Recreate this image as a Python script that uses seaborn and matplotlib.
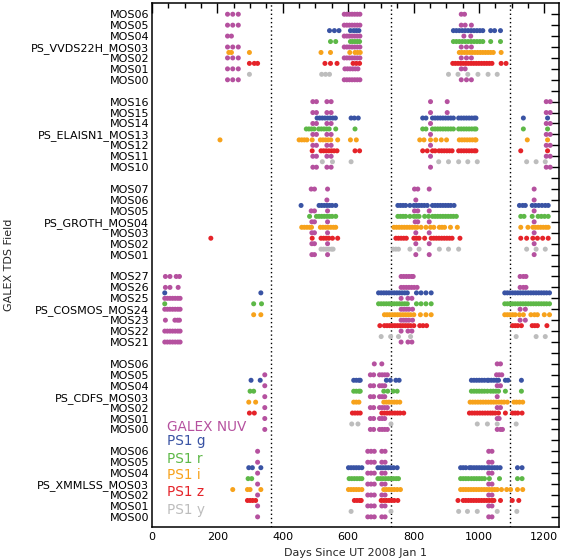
import numpy as np
import pandas as pd
import matplotlib
matplotlib.use('Agg')
import matplotlib.pyplot as plt
import seaborn as sb

# bandas y colores
bandas = ['NUV', 'g', 'r', 'i', 'z', 'y']
colores = {'NUV': '#B5519F', 'g': '#3953A4', 'r': '#5DB847',
           'i': '#F7A21B', 'z': '#E52329', 'y': '#BDBDBD'}
leyenda = ['GALEX NUV', 'PS1 g', 'PS1 r', 'PS1 i', 'PS1 z', 'PS1 y']

# campos, de abajo hacia arriba
campos = ['PS_XMMLSS', 'PS_CDFS', 'PS_COSMOS', 'PS_GROTH', 'PS_ELAISN1', 'PS_VVDS22H']
mos_inicio = [0, 0, 21, 1, 10, 0]
anios = [365, 731, 1096]

# GALEX NUV: una lista por MOS, de arriba (MOS mayor) hacia abajo
nuv_vvds = [
    [231, 247, 264, 588, 596, 604, 612, 620, 628, 636, 946, 956],
    [231, 247, 264, 588, 596, 604, 612, 620, 628, 636, 946, 958, 977],
    [231, 243, 588, 596, 604, 612, 620, 628, 636, 954, 975],
    [231, 247, 264, 588, 596, 604, 612, 620, 628, 636, 946, 962, 977],
    [231, 247, 264, 588, 596, 604, 612, 620, 628, 636, 946, 962, 977],
    [231, 247, 264, 590, 598, 606, 614, 622, 630, 946, 958],
    [231, 247, 264, 588, 596, 604, 612, 620, 628, 636, 946, 962, 977],
]
nuv_elais = [
    [492, 503, 535, 548, 852, 903, 1206, 1218],
    [492, 503, 535, 548, 852, 903, 1206, 1218],
    [492, 503, 535, 548, 852, 1206, 1218],
    [492, 503, 535, 548, 852, 1206, 1218],
    [492, 503, 535, 548, 852, 1206, 1218],
    [492, 503, 535, 548, 852, 1206, 1218],
    [492, 503, 535, 548, 852, 1206, 1218],
]
nuv_groth = [
    [487, 497, 537, 803, 813, 848, 1169],
    [535, 807, 1169],
    [487, 497, 537, 803, 813, 848, 1169],
    [489, 497, 537, 805, 813, 848, 1169],
    [489, 497, 537, 807, 848, 1169],
    [489, 497, 537, 807, 848, 1169],
    [489, 497, 537, 807, 848, 1169],
]
nuv_cosmos = [
    [41, 55, 74, 84, 762, 770, 778, 786, 794, 799, 1126, 1136, 1144],
    [41, 55, 80, 762, 770, 778, 786, 794, 802, 811, 1126, 1136, 1144],
    [39, 47, 55, 63, 71, 79, 86, 762, 783, 795],
    [39, 47, 55, 63, 71, 79, 86, 762, 770, 778, 786, 797, 1126, 1142],
    [41, 70, 78, 84, 762, 770, 778, 786, 797, 1126, 1142],
    [39, 47, 55, 63, 71, 79, 86, 762, 783, 795],
    [39, 47, 55, 63, 71, 79, 86, 762, 783, 795],
]
nuv_cdfs = [
    [680, 703, 1056, 1066],
    [345, 668, 678, 696, 704, 712, 720, 1054, 1062, 1070],
    [345, 668, 678, 696, 704, 712, 1056, 1066],
    [345, 668, 678, 696, 704, 712, 1056],
    [345, 668, 678, 696, 704, 712, 720, 1056, 1066],
    [345, 668, 678, 696, 704, 712, 1056, 1062],
    [345, 668, 678, 696, 704, 712, 720, 1056, 1066, 1072],
]
nuv_xmm = [
    [323, 660, 670, 680, 703, 713, 1030, 1040],
    [323, 660, 670, 680, 703, 713, 1030, 1040],
    [323, 660, 670, 680, 703, 713, 1030, 1040],
    [323, 660, 670, 680, 703, 713, 1030, 1040],
    [323, 660, 670, 680, 703, 713, 1030, 1040],
    [323, 660, 670, 680, 703, 713, 1030, 1040],
    [323, 660, 670, 680, 703, 713, 1030, 1040],
]

# PS1: listas g, r, i, z, y por campo
ps1_vvds = [
    [543, 558, 572, 607, 617, 625, 633, 922, 931, 940, 949, 958, 967, 976, 985, 994, 1003, 1012, 1036, 1048, 1066],
    [546, 562, 607, 614, 621, 628, 635, 922, 931, 940, 949, 958, 967, 976, 985, 994, 1003, 1012, 1036, 1066],
    [235, 243, 298, 517, 546, 605, 621, 629, 637, 940, 948, 956, 964, 972, 980, 988, 996, 1004, 1012, 1020, 1028, 1036, 1044, 1068],
    [298, 313, 323, 529, 546, 566, 615, 625, 635, 920, 928, 936, 944, 952, 960, 968, 976, 984, 992, 1000, 1008, 1016, 1024, 1032, 1040, 1068, 1083],
    [298, 519, 531, 543, 907, 936, 966, 997, 1028, 1056],
]
ps1_elais = [
    [505, 513, 521, 529, 537, 545, 553, 561, 609, 619, 631, 828, 838, 858, 866, 874, 882, 890, 898, 906, 914, 922, 938, 946, 954, 962, 970, 978, 986, 991, 1136, 1210],
    [472, 480, 488, 496, 510, 518, 526, 534, 542, 562, 621, 828, 838, 858, 866, 874, 882, 890, 898, 906, 914, 922, 938, 946, 954, 962, 970, 978, 986, 991, 1136, 1210],
    [208, 450, 458, 466, 474, 490, 515, 523, 531, 539, 547, 568, 607, 625, 819, 832, 852, 868, 885, 901, 940, 948, 956, 964, 972, 980, 988, 991, 1148, 1210],
    [490, 517, 525, 533, 541, 549, 557, 566, 621, 635, 828, 842, 858, 866, 878, 886, 894, 902, 910, 918, 938, 946, 954, 962, 970, 978, 986, 991, 1128, 1210],
    [521, 552, 609, 877, 907, 938, 966, 995, 1146, 1175, 1203],
]
ps1_groth = [
    [456, 511, 519, 527, 535, 543, 551, 562, 752, 760, 768, 776, 789, 801, 809, 817, 825, 833, 842, 858, 866, 874, 882, 890, 898, 906, 914, 924, 1124, 1134, 1142, 1163, 1173, 1183, 1193, 1203, 1212],
    [482, 503, 511, 519, 527, 535, 543, 551, 562, 752, 760, 768, 776, 789, 801, 809, 817, 834, 846, 858, 866, 874, 882, 890, 898, 906, 914, 922, 931, 1128, 1138, 1163, 1181, 1191, 1201, 1212],
    [458, 466, 474, 482, 488, 515, 523, 531, 539, 547, 555, 562, 740, 748, 756, 764, 772, 780, 788, 796, 804, 811, 823, 838, 852, 862, 879, 887, 895, 913, 934, 1128, 1150, 1165, 1173, 1181, 1189, 1197, 1205, 1212],
    [180, 490, 517, 525, 533, 541, 552, 568, 746, 754, 762, 770, 778, 801, 809, 817, 834, 854, 862, 870, 878, 886, 894, 902, 910, 918, 942, 1128, 1146, 1165, 1179, 1195, 1212],
    [517, 525, 533, 541, 549, 554, 738, 746, 754, 789, 817, 879, 907, 938, 1146, 1175, 1203],
]
ps1_cosmos = [
    [39, 333, 693, 701, 709, 717, 725, 733, 741, 749, 757, 765, 773, 781, 809, 823, 838, 854, 1079, 1087, 1095, 1103, 1111, 1119, 1127, 1135, 1143, 1151, 1159, 1167, 1175, 1183, 1191, 1199, 1207, 1216],
    [39, 311, 335, 693, 701, 709, 717, 725, 733, 741, 749, 757, 765, 773, 781, 809, 823, 838, 854, 1079, 1087, 1095, 1103, 1111, 1119, 1127, 1135, 1143, 1151, 1159, 1167, 1175, 1183, 1191, 1199, 1207, 1216],
    [311, 333, 711, 719, 727, 735, 743, 751, 759, 767, 775, 783, 791, 801, 821, 838, 854, 1079, 1087, 1095, 1103, 1111, 1124, 1136, 1159, 1170, 1179, 1200, 1216],
    [697, 711, 719, 727, 735, 743, 751, 759, 767, 775, 783, 791, 801, 819, 829, 840, 1103, 1111, 1119, 1130, 1163, 1171, 1179, 1208],
    [701, 730, 754, 791, 1114, 1175, 1203],
]
ps1_cdfs = [
    [303, 331, 617, 625, 633, 637, 717, 729, 746, 756, 977, 985, 993, 1001, 1009, 1017, 1026, 1030, 1038, 1046, 1054, 1060, 1081, 1089, 1130],
    [300, 311, 617, 625, 633, 637, 709, 721, 738, 750, 977, 985, 993, 1001, 1009, 1017, 1026, 1036, 1044, 1052, 1060, 1081, 1130],
    [296, 317, 617, 625, 633, 709, 717, 725, 733, 741, 749, 758, 973, 981, 989, 997, 1005, 1013, 1021, 1029, 1037, 1045, 1053, 1061, 1069, 1077, 1087, 1107, 1115, 1124, 1134],
    [298, 313, 613, 621, 629, 637, 703, 711, 719, 727, 735, 743, 751, 759, 770, 971, 979, 987, 995, 1003, 1011, 1019, 1027, 1035, 1042, 1050, 1060, 1081, 1103, 1111, 1119, 1132],
    [611, 630, 731, 995, 1026, 1056, 1114],
]
ps1_xmm = [
    [296, 307, 333, 601, 609, 617, 625, 633, 642, 691, 699, 707, 715, 723, 731, 739, 750, 944, 952, 960, 971, 977, 985, 993, 1001, 1009, 1017, 1026, 1032, 1040, 1048, 1056, 1065, 1118, 1132],
    [294, 305, 603, 611, 619, 627, 635, 642, 691, 699, 707, 715, 723, 731, 739, 747, 754, 944, 952, 960, 968, 977, 985, 993, 1001, 1009, 1017, 1032, 1063, 1118, 1132],
    [247, 292, 300, 333, 601, 609, 617, 625, 633, 642, 709, 717, 725, 733, 741, 750, 760, 944, 952, 960, 968, 976, 984, 992, 1000, 1008, 1016, 1024, 1032, 1040, 1048, 1056, 1069, 1085, 1097, 1118, 1134],
    [292, 300, 308, 317, 619, 627, 635, 640, 701, 709, 717, 725, 733, 741, 752, 936, 952, 960, 968, 976, 984, 992, 1000, 1008, 1016, 1024, 1032, 1040, 1046, 1066, 1102, 1122],
    [609, 731, 938, 965, 995, 1056, 1116],
]

nuv_todos = [nuv_xmm, nuv_cdfs, nuv_cosmos, nuv_groth, nuv_elais, nuv_vvds]
ps1_todos = [ps1_xmm, ps1_cdfs, ps1_cosmos, ps1_groth, ps1_elais, ps1_vvds]

# Tabla larga: dia, posicion vertical, banda
filas = []
for k in range(len(campos)):
    base = k * 8
    for j, fila in enumerate(nuv_todos[k]):
        for d in fila:
            filas.append((d, base + 6 - j, 'NUV'))
    for j, fila in enumerate(ps1_todos[k]):
        for d in fila:
            filas.append((d, base + 4.5 - j, bandas[j + 1]))
datos = pd.DataFrame(filas, columns=['dia', 'pos', 'banda'])

# Etiquetas del eje y
pos_ticks = []
etiquetas = []
for k in range(len(campos)):
    for m in range(7):
        pos_ticks.append(k * 8 + m)
        txt = 'MOS%02d' % (mos_inicio[k] + m)
        if m == 3:
            txt = campos[k] + '_' + txt
        etiquetas.append(txt)
    if k < len(campos) - 1:
        pos_ticks.append(k * 8 + 7)
        etiquetas.append('')

sb.set_style('white')
plt.rcParams['font.family'] = ['DejaVu Sans']
fig = plt.figure(figsize=(5.65, 5.6), dpi=100)
ax = fig.add_axes([152 / 565, 1 - 526.7 / 560, 407 / 565, 523.4 / 560])

sb.scatterplot(data=datos, x='dia', y='pos', hue='banda', palette=colores,
               s=13, linewidth=0, legend=False, ax=ax, zorder=3)

for a in anios:
    ax.axvline(a, color='black', linestyle=(0, (1, 2)), linewidth=1.0, zorder=2)

ax.set_xlim(0, 1245)
ax.set_ylim(-0.9, 47.0)
ax.set_xticks([0, 200, 400, 600, 800, 1000, 1200])
ax.set_xticks(np.arange(0, 1245, 50), minor=True)
ax.set_yticks(pos_ticks)
ax.set_yticklabels(etiquetas)
ax.tick_params(axis='both', which='both', direction='in', top=True, right=True,
               colors='black', labelsize=8, width=1.0)
ax.tick_params(axis='x', which='major', length=7, pad=4)
ax.tick_params(axis='x', which='minor', length=3.5)
ax.tick_params(axis='y', which='major', length=6, pad=2)
for s in ax.spines.values():
    s.set_color('black')
    s.set_linewidth(1.1)
ax.set_xlabel('Days Since UT 2008 Jan 1', fontsize=8, labelpad=4)
ax.set_ylabel('')
fig.text(0.016, 0.527, 'GALEX TDS Field', rotation=90, ha='center', va='center', fontsize=8)

# leyenda en texto de color
ley_y = [8.35, 7.04, 5.43, 4.0, 2.38, 0.8]
for t, b, yy in zip(leyenda, bandas, ley_y):
    ax.text(45, yy, t, color=colores[b], fontsize=9.8, ha='left', va='center_baseline')

fig.savefig('out.png', dpi=100)
